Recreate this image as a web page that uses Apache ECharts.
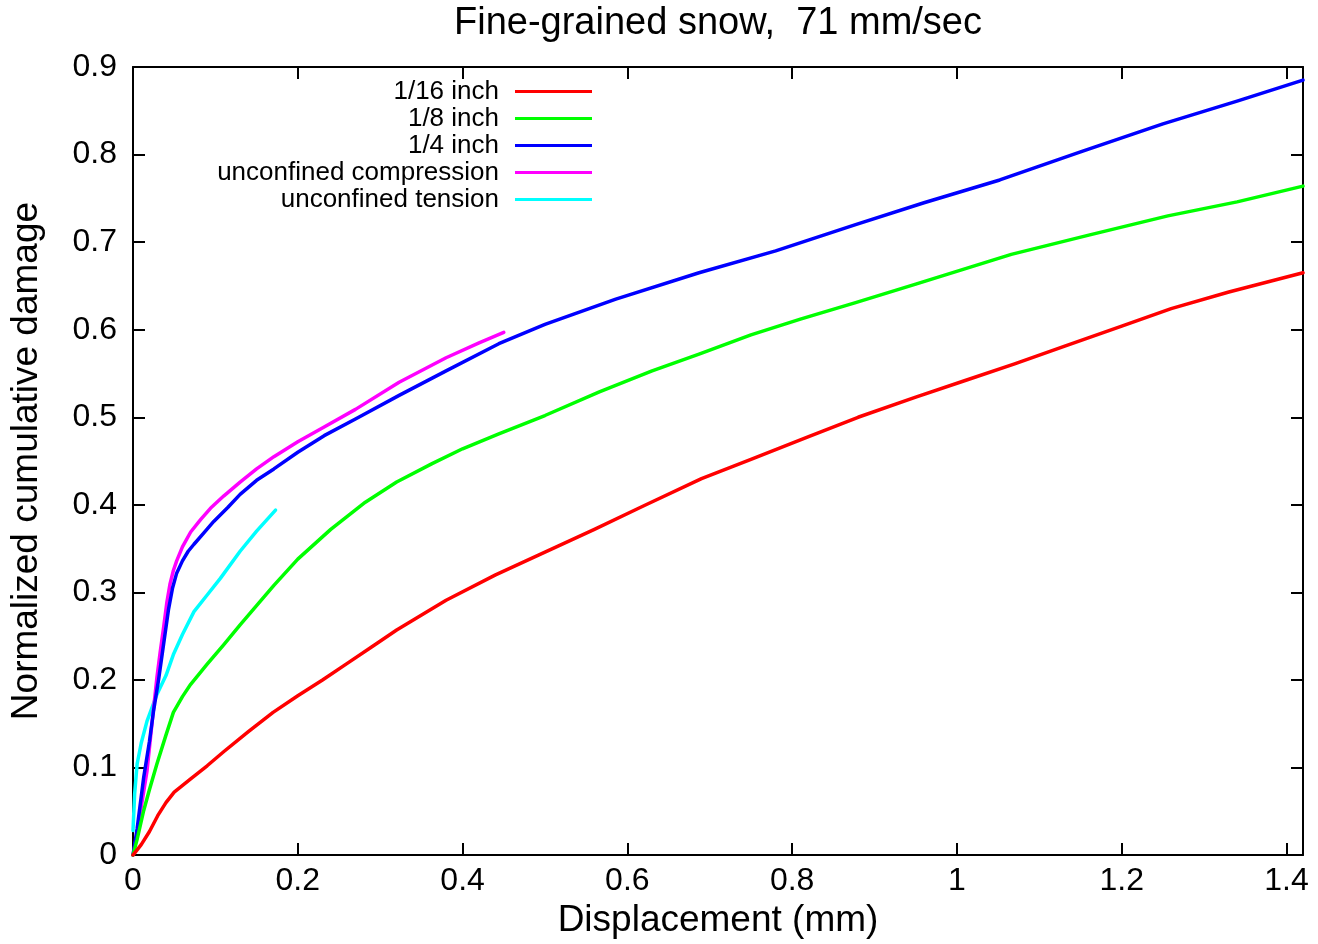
<!DOCTYPE html>
<html>
<head>
<meta charset="utf-8">
<script src="https://cdn.jsdelivr.net/npm/echarts@6/dist/echarts.min.js"></script>
<style>
  html, body { margin: 0; padding: 0; background: #fff; }
  #chart { width: 1318px; height: 944px; }
</style>
</head>
<body>
<div id="chart"></div>
<script>
// series names (legend order)
var names = ['1/16 inch', '1/8 inch', '1/4 inch', 'unconfined compression', 'unconfined tension'];
var colors = ['#ff0000', '#00ff00', '#0000ff', '#ff00ff', '#00ffff'];

// [displacement mm, normalized damage]
var inch16 = [[0,0],[0.01,0.012],[0.02,0.027],[0.03,0.045],[0.04,0.06],[0.05,0.072],[0.07,0.087],
  [0.09,0.102],[0.11,0.118],[0.14,0.141],[0.17,0.163],[0.2,0.182],[0.23,0.2],[0.26,0.219],
  [0.29,0.238],[0.32,0.257],[0.38,0.291],[0.44,0.32],[0.5,0.346],[0.56,0.372],
  [0.62,0.399],[0.69,0.43],[0.75,0.452],[0.82,0.478],[0.88,0.5],[0.95,0.523],[1.01,0.542],
  [1.07,0.561],[1.13,0.581],[1.2,0.604],[1.26,0.624],[1.33,0.643],[1.42,0.665]];

var inch8 = [[0,0],[0.005,0.018],[0.013,0.051],[0.02,0.075],[0.029,0.104],[0.04,0.137],[0.049,0.163],
  [0.06,0.181],[0.07,0.195],[0.09,0.218],[0.11,0.24],[0.13,0.263],[0.151,0.286],[0.171,0.308],
  [0.2,0.338],[0.24,0.372],[0.282,0.403],[0.32,0.426],[0.363,0.447],[0.4,0.464],[0.444,0.481],
  [0.5,0.502],[0.566,0.529],[0.63,0.553],[0.687,0.572],[0.75,0.594],[0.81,0.612],[0.877,0.631],
  [0.95,0.652],[1.066,0.686],[1.16,0.708],[1.256,0.73],[1.34,0.746],[1.42,0.764]];

var inch4 = [[0,0],[0.005,0.03],[0.013,0.089],[0.02,0.13],[0.025,0.165],[0.031,0.2],[0.037,0.24],
  [0.043,0.28],[0.048,0.305],[0.053,0.322],[0.06,0.336],[0.067,0.347],[0.074,0.355],[0.086,0.368],
  [0.098,0.381],[0.115,0.397],[0.13,0.412],[0.15,0.428],[0.171,0.441],[0.2,0.46],[0.232,0.479],
  [0.27,0.498],[0.323,0.525],[0.38,0.553],[0.444,0.584],[0.5,0.606],[0.586,0.635],[0.687,0.665],
  [0.78,0.69],[0.877,0.72],[0.96,0.745],[1.052,0.771],[1.15,0.803],[1.25,0.835],[1.34,0.861],[1.42,0.885]];

var compression = [[0,0],[0.005,0.024],[0.01,0.055],[0.017,0.096],[0.023,0.15],[0.029,0.2025],
  [0.033,0.232],[0.037,0.259],[0.041,0.288],[0.045,0.31],[0.049,0.325],[0.053,0.336],[0.06,0.352],
  [0.07,0.369],[0.082,0.383],[0.094,0.396],[0.11,0.41],[0.13,0.426],[0.15,0.441],[0.171,0.455],
  [0.2,0.472],[0.232,0.489],[0.27,0.509],[0.323,0.54],[0.38,0.568],[0.42,0.585],[0.45,0.597]];

var tension = [[0,0.028],[0.002,0.07],[0.005,0.104],[0.01,0.128],[0.017,0.153],[0.029,0.1835],
  [0.04,0.205],[0.049,0.229],[0.06,0.252],[0.074,0.278],[0.09,0.297],[0.106,0.316],[0.13,0.347],
  [0.15,0.37],[0.173,0.394]];

var seriesData = [inch16, inch8, inch4, compression, tension];

var FONT = '"Liberation Sans", Arial, sans-serif';

var chart = echarts.init(document.getElementById('chart'));

// gnuplot-like frame: black border, ticks pointing into the plot
function frameLine() {
  return { show: true, onZero: false, lineStyle: { color: '#000', width: 2 } };
}
function tickIn() {
  return { show: true, inside: true, length: 12, lineStyle: { color: '#000', width: 2 } };
}

var option = {
  animation: false,
  backgroundColor: '#fff',
  title: {
    text: 'Fine-grained snow,  71 mm/sec',
    left: 718,
    top: 5,
    padding: 0,
    textAlign: 'center',
    textStyle: { fontFamily: FONT, fontSize: 38, fontWeight: 'normal', color: '#000' }
  },
  legend: {
    orient: 'vertical',
    align: 'right',
    right: 726,
    top: 78,
    padding: 0,
    itemGap: 0,
    itemWidth: 77,
    itemHeight: 3,
    icon: 'rect',
    data: names,
    textStyle: { fontFamily: FONT, fontSize: 26, color: '#000', lineHeight: 27, padding: [0, 11, 0, 0] }
  },
  grid: { left: 133, right: 15, top: 67, bottom: 86 },
  xAxis: [{
    type: 'value',
    position: 'bottom',
    min: 0, max: 1.42, interval: 0.2,
    name: 'Displacement (mm)',
    nameLocation: 'middle',
    nameGap: 38,
    nameTextStyle: { fontFamily: FONT, fontSize: 37, color: '#000', verticalAlign: 'top' },
    axisLine: frameLine(),
    axisTick: tickIn(),
    axisLabel: { fontFamily: FONT, fontSize: 32, color: '#000', margin: 10, showMaxLabel: false },
    splitLine: { show: false }
  }, {
    type: 'value', position: 'top',
    min: 0, max: 1.42, interval: 0.2,
    axisLine: frameLine(),
    axisTick: tickIn(),
    axisLabel: { show: false },
    splitLine: { show: false }
  }],
  yAxis: [{
    type: 'value',
    position: 'left',
    min: 0, max: 0.9, interval: 0.1,
    name: 'Normalized cumulative damage',
    nameLocation: 'middle',
    nameGap: 88,
    nameTextStyle: { fontFamily: FONT, fontSize: 37, color: '#000' },
    axisLine: frameLine(),
    axisTick: tickIn(),
    axisLabel: { fontFamily: FONT, fontSize: 32, color: '#000', margin: 16 },
    splitLine: { show: false }
  }, {
    type: 'value', position: 'right',
    min: 0, max: 0.9, interval: 0.1,
    axisLine: frameLine(),
    axisTick: tickIn(),
    axisLabel: { show: false },
    splitLine: { show: false }
  }],
  series: names.map(function (n, i) {
    return {
      name: n,
      type: 'line',
      data: seriesData[i],
      showSymbol: false,
      symbol: 'none',
      smooth: false,
      color: colors[i],
      lineStyle: { color: colors[i], width: 3.5, join: 'round', cap: 'round' },
      clip: true,
      z: 10 - i
    };
  })
};

chart.setOption(option);
</script>
</body>
</html>
